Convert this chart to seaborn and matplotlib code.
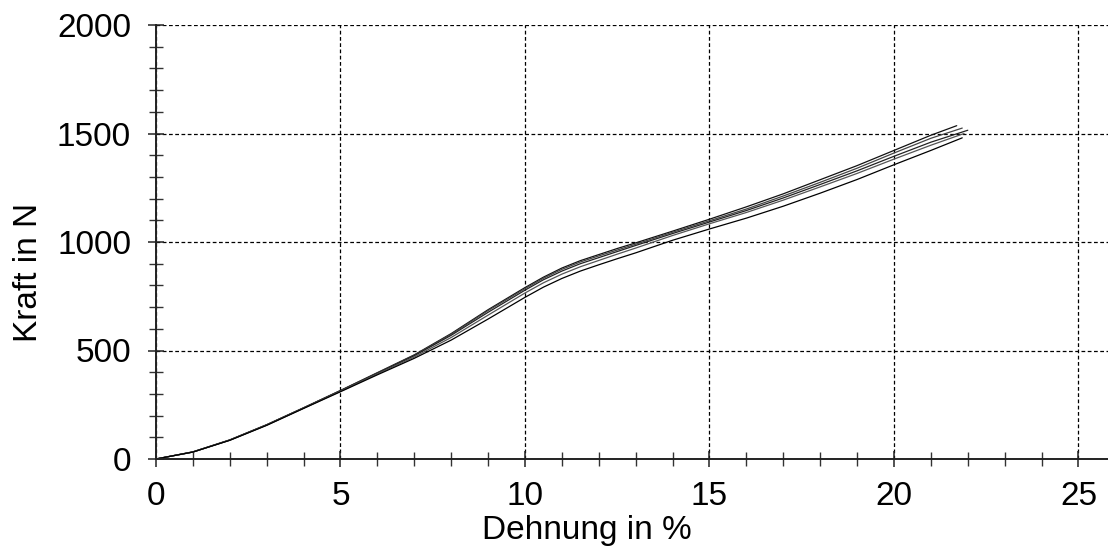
import numpy as np
import pandas as pd
import matplotlib
matplotlib.use("Agg")
import matplotlib.pyplot as plt
from matplotlib.ticker import MultipleLocator
import seaborn as sns

# Kraft-Dehnungs-Kurven (5 Proben)
dehnung = [0, 1, 2, 3, 4, 5, 6, 7, 8, 9, 10, 10.5, 11, 11.5, 12, 12.5, 13, 14, 15, 16, 17, 18, 19, 20, 21]

kraft_a = [0, 33, 88, 158, 236, 316, 398, 480, 578, 688, 790, 838, 880, 914, 942, 970, 996, 1050, 1105, 1162, 1222, 1287, 1352, 1422, 1492]
kraft_b = [0, 33, 88, 158, 236, 315, 396, 478, 575, 684, 785, 833, 874, 908, 936, 963, 990, 1045, 1098, 1152, 1212, 1275, 1340, 1410, 1478]
kraft_c = [0, 32, 87, 157, 235, 314, 395, 476, 570, 676, 778, 826, 866, 900, 928, 956, 984, 1039, 1092, 1145, 1203, 1265, 1328, 1395, 1460]
kraft_d = [0, 32, 87, 156, 234, 312, 392, 470, 560, 663, 765, 812, 852, 886, 915, 944, 972, 1030, 1084, 1136, 1193, 1254, 1316, 1382, 1446]
kraft_e = [0, 32, 86, 155, 233, 310, 388, 464, 548, 645, 745, 792, 832, 866, 895, 923, 950, 1008, 1060, 1110, 1165, 1225, 1288, 1356, 1422]

# Endpunkte (Bruch) je Probe
ende_dehnung = [21.7, 21.85, 22.0, 21.9, 21.85]
ende_kraft = [1536, 1525, 1515, 1500, 1480]

proben = ["A", "B", "C", "D", "E"]
farben = ["#111111", "#444444", "#222222", "#555555", "#000000"]

x_major = [0, 5, 10, 15, 20, 25]
y_major = [0, 500, 1000, 1500, 2000]

frames = []
for name, ky, ex, ey in zip(proben, [kraft_a, kraft_b, kraft_c, kraft_d, kraft_e],
                            ende_dehnung, ende_kraft):
    frames.append(pd.DataFrame({"Dehnung": dehnung + [ex],
                                "Kraft": ky + [ey], "Probe": name}))
df = pd.concat(frames, ignore_index=True)

sns.set_style("ticks")
plt.rcParams["font.family"] = ["Liberation Sans", "DejaVu Sans"]
plt.rcParams["text.color"] = "black"
plt.rcParams["axes.labelcolor"] = "black"

fig = plt.figure(figsize=(11.08, 5.6), dpi=100)
ax = fig.add_axes([156 / 1108, 1 - 459 / 560, 952 / 1108, 434 / 560])

sns.lineplot(data=df, x="Dehnung", y="Kraft", hue="Probe", palette=farben,
             estimator=None, sort=False, linewidth=0.9, legend=False, ax=ax)

ax.set_xlim(0, 25.8)
ax.set_ylim(0, 2000)
ax.set_xticks(x_major)
ax.set_yticks(y_major)
ax.xaxis.set_minor_locator(MultipleLocator(1))
ax.yaxis.set_minor_locator(MultipleLocator(100))

ax.grid(True, which="major", color="black", linestyle=(0, (3, 2)), linewidth=0.9)
ax.set_axisbelow(True)

for side in ["top", "right"]:
    ax.spines[side].set_visible(False)
for side in ["left", "bottom"]:
    ax.spines[side].set_linewidth(1.4)
    ax.spines[side].set_color("#222222")

ax.tick_params(which="major", direction="inout", length=12, width=1.1,
               labelsize=24, pad=12, colors="#222222", labelcolor="black")
ax.tick_params(axis="x", which="major", pad=10)
ax.tick_params(which="minor", direction="inout", length=10, width=1.0,
               colors="#333333")

ax.set_xlabel("Dehnung in %", fontsize=24)
ax.set_ylabel("Kraft in N", fontsize=24)
ax.xaxis.set_label_coords(0.453, -0.128)
ax.yaxis.set_label_coords(-0.118, 0.431)

fig.savefig("out.png", dpi=100)
